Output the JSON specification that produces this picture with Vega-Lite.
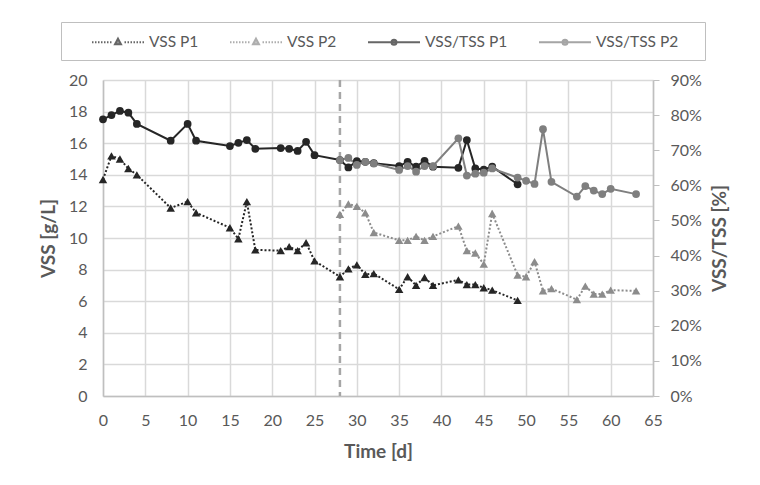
{
  "$schema": "https://vega.github.io/schema/vega-lite/v6.json",
  "width": 550,
  "height": 316,
  "autosize": {"type": "none"},
  "padding": {"left": 103, "top": 80, "right": 107, "bottom": 89},
  "background": "white",
  "config": {
    "font": "Lato",
    "view": {"stroke": null},
    "axis": {
      "labelFont": "Lato",
      "labelFontSize": 16,
      "labelColor": "#595959",
      "titleFont": "Lato",
      "titleFontSize": 19,
      "titleFontWeight": "bold",
      "titleColor": "#595959",
      "gridColor": "#d9d9d9",
      "gridWidth": 1.5,
      "domainColor": "#bfbfbf",
      "domainWidth": 1.5,
      "tickColor": "#bfbfbf"
    },
    "legend": {
      "orient": "none",
      "direction": "horizontal",
      "columns": 4,
      "titleOrient": "right",
      "titlePadding": 18,
      "padding": 9,
      "strokeColor": "#bfbfbf",
      "fillColor": "white",
      "symbolSize": 400,
      "symbolStrokeWidth": 2,
      "symbolOffset": 37,
      "labelOffset": 20,
      "labelFont": "Lato",
      "labelFontSize": 15.5,
      "labelColor": "#595959",
      "labelLimit": 300,
      "columnPadding": 5
    }
  },
  "datasets": {
    "main": [
      {"t": 0, "s": "VSS P1", "v": 13.7},
      {"t": 1, "s": "VSS P1", "v": 15.2},
      {"t": 2, "s": "VSS P1", "v": 15.0},
      {"t": 3, "s": "VSS P1", "v": 14.4},
      {"t": 4, "s": "VSS P1", "v": 14.0},
      {"t": 8, "s": "VSS P1", "v": 11.9},
      {"t": 10, "s": "VSS P1", "v": 12.3},
      {"t": 11, "s": "VSS P1", "v": 11.6},
      {"t": 15, "s": "VSS P1", "v": 10.65},
      {"t": 16, "s": "VSS P1", "v": 9.95},
      {"t": 17, "s": "VSS P1", "v": 12.3},
      {"t": 18, "s": "VSS P1", "v": 9.25},
      {"t": 21, "s": "VSS P1", "v": 9.2},
      {"t": 22, "s": "VSS P1", "v": 9.45},
      {"t": 23, "s": "VSS P1", "v": 9.2},
      {"t": 24, "s": "VSS P1", "v": 9.7},
      {"t": 25, "s": "VSS P1", "v": 8.55},
      {"t": 28, "s": "VSS P1", "v": 7.55},
      {"t": 29, "s": "VSS P1", "v": 8.05},
      {"t": 30, "s": "VSS P1", "v": 8.3},
      {"t": 31, "s": "VSS P1", "v": 7.7},
      {"t": 32, "s": "VSS P1", "v": 7.75},
      {"t": 35, "s": "VSS P1", "v": 6.75},
      {"t": 36, "s": "VSS P1", "v": 7.55},
      {"t": 37, "s": "VSS P1", "v": 7.0},
      {"t": 38, "s": "VSS P1", "v": 7.5},
      {"t": 39, "s": "VSS P1", "v": 7.0},
      {"t": 42, "s": "VSS P1", "v": 7.35},
      {"t": 43, "s": "VSS P1", "v": 7.05},
      {"t": 44, "s": "VSS P1", "v": 7.05},
      {"t": 45, "s": "VSS P1", "v": 6.85},
      {"t": 46, "s": "VSS P1", "v": 6.7},
      {"t": 49, "s": "VSS P1", "v": 6.05},
      {"t": 28, "s": "VSS P2", "v": 11.5},
      {"t": 29, "s": "VSS P2", "v": 12.15},
      {"t": 30, "s": "VSS P2", "v": 12.0},
      {"t": 31, "s": "VSS P2", "v": 11.6},
      {"t": 32, "s": "VSS P2", "v": 10.35},
      {"t": 35, "s": "VSS P2", "v": 9.85},
      {"t": 36, "s": "VSS P2", "v": 9.85},
      {"t": 37, "s": "VSS P2", "v": 10.1},
      {"t": 38, "s": "VSS P2", "v": 9.85},
      {"t": 39, "s": "VSS P2", "v": 10.1},
      {"t": 42, "s": "VSS P2", "v": 10.75},
      {"t": 43, "s": "VSS P2", "v": 9.2},
      {"t": 44, "s": "VSS P2", "v": 9.05},
      {"t": 45, "s": "VSS P2", "v": 8.35},
      {"t": 46, "s": "VSS P2", "v": 11.55},
      {"t": 49, "s": "VSS P2", "v": 7.65},
      {"t": 50, "s": "VSS P2", "v": 7.55},
      {"t": 51, "s": "VSS P2", "v": 8.5},
      {"t": 52, "s": "VSS P2", "v": 6.65},
      {"t": 53, "s": "VSS P2", "v": 6.8},
      {"t": 56, "s": "VSS P2", "v": 6.1},
      {"t": 57, "s": "VSS P2", "v": 6.95},
      {"t": 58, "s": "VSS P2", "v": 6.45},
      {"t": 59, "s": "VSS P2", "v": 6.45},
      {"t": 60, "s": "VSS P2", "v": 6.7},
      {"t": 63, "s": "VSS P2", "v": 6.65},
      {"t": 0, "s": "VSS/TSS P1", "v": 0.788},
      {"t": 1, "s": "VSS/TSS P1", "v": 0.8},
      {"t": 2, "s": "VSS/TSS P1", "v": 0.812},
      {"t": 3, "s": "VSS/TSS P1", "v": 0.807},
      {"t": 4, "s": "VSS/TSS P1", "v": 0.775},
      {"t": 8, "s": "VSS/TSS P1", "v": 0.727},
      {"t": 10, "s": "VSS/TSS P1", "v": 0.775},
      {"t": 11, "s": "VSS/TSS P1", "v": 0.727},
      {"t": 15, "s": "VSS/TSS P1", "v": 0.712},
      {"t": 16, "s": "VSS/TSS P1", "v": 0.721},
      {"t": 17, "s": "VSS/TSS P1", "v": 0.729},
      {"t": 18, "s": "VSS/TSS P1", "v": 0.704},
      {"t": 21, "s": "VSS/TSS P1", "v": 0.706},
      {"t": 22, "s": "VSS/TSS P1", "v": 0.704},
      {"t": 23, "s": "VSS/TSS P1", "v": 0.698},
      {"t": 24, "s": "VSS/TSS P1", "v": 0.724},
      {"t": 25, "s": "VSS/TSS P1", "v": 0.686},
      {"t": 28, "s": "VSS/TSS P1", "v": 0.672},
      {"t": 29, "s": "VSS/TSS P1", "v": 0.651},
      {"t": 30, "s": "VSS/TSS P1", "v": 0.669},
      {"t": 31, "s": "VSS/TSS P1", "v": 0.667},
      {"t": 32, "s": "VSS/TSS P1", "v": 0.663},
      {"t": 35, "s": "VSS/TSS P1", "v": 0.655},
      {"t": 36, "s": "VSS/TSS P1", "v": 0.667},
      {"t": 37, "s": "VSS/TSS P1", "v": 0.653},
      {"t": 38, "s": "VSS/TSS P1", "v": 0.67},
      {"t": 39, "s": "VSS/TSS P1", "v": 0.653},
      {"t": 42, "s": "VSS/TSS P1", "v": 0.65},
      {"t": 43, "s": "VSS/TSS P1", "v": 0.729},
      {"t": 44, "s": "VSS/TSS P1", "v": 0.648},
      {"t": 45, "s": "VSS/TSS P1", "v": 0.645},
      {"t": 46, "s": "VSS/TSS P1", "v": 0.653},
      {"t": 49, "s": "VSS/TSS P1", "v": 0.603},
      {"t": 28, "s": "VSS/TSS P2", "v": 0.672},
      {"t": 29, "s": "VSS/TSS P2", "v": 0.678},
      {"t": 30, "s": "VSS/TSS P2", "v": 0.658},
      {"t": 31, "s": "VSS/TSS P2", "v": 0.667},
      {"t": 32, "s": "VSS/TSS P2", "v": 0.662},
      {"t": 35, "s": "VSS/TSS P2", "v": 0.644},
      {"t": 36, "s": "VSS/TSS P2", "v": 0.655},
      {"t": 37, "s": "VSS/TSS P2", "v": 0.639},
      {"t": 38, "s": "VSS/TSS P2", "v": 0.655},
      {"t": 39, "s": "VSS/TSS P2", "v": 0.655},
      {"t": 42, "s": "VSS/TSS P2", "v": 0.734},
      {"t": 43, "s": "VSS/TSS P2", "v": 0.628},
      {"t": 44, "s": "VSS/TSS P2", "v": 0.633},
      {"t": 45, "s": "VSS/TSS P2", "v": 0.636},
      {"t": 46, "s": "VSS/TSS P2", "v": 0.648},
      {"t": 49, "s": "VSS/TSS P2", "v": 0.622},
      {"t": 50, "s": "VSS/TSS P2", "v": 0.613},
      {"t": 51, "s": "VSS/TSS P2", "v": 0.604},
      {"t": 52, "s": "VSS/TSS P2", "v": 0.76},
      {"t": 53, "s": "VSS/TSS P2", "v": 0.61},
      {"t": 56, "s": "VSS/TSS P2", "v": 0.568},
      {"t": 57, "s": "VSS/TSS P2", "v": 0.598},
      {"t": 58, "s": "VSS/TSS P2", "v": 0.585},
      {"t": 59, "s": "VSS/TSS P2", "v": 0.575},
      {"t": 60, "s": "VSS/TSS P2", "v": 0.59},
      {"t": 63, "s": "VSS/TSS P2", "v": 0.575}
    ]
  },
  "encoding": {
    "x": {
      "field": "t",
      "type": "quantitative",
      "scale": {"domain": [0, 65], "nice": false},
      "axis": {
        "title": "Time [d]",
        "values": [0, 5, 10, 15, 20, 25, 30, 35, 40, 45, 50, 55, 60, 65],
        "grid": true,
        "ticks": false,
        "labelPadding": 16,
        "titlePadding": 14,
        "labelFlush": false
      }
    }
  },
  "layer": [
    {
      "data": {"values": [{"t": 28}]},
      "mark": {"type": "rule", "color": "#a6a6a6", "strokeWidth": 2.5, "strokeDash": [7, 5]},
      "encoding": {}
    },
    {
      "data": {"name": "main"},
      "transform": [{"filter": {"field": "s", "oneOf": ["VSS P1", "VSS P2"]}}],
      "encoding": {
        "y": {
          "field": "v",
          "type": "quantitative",
          "scale": {"domain": [0, 20], "nice": false},
          "axis": {
            "orient": "left",
            "title": "VSS [g/L]",
            "values": [0, 2, 4, 6, 8, 10, 12, 14, 16, 18, 20],
            "grid": true,
            "ticks": false,
            "labelPadding": 16,
            "titlePadding": 10
          }
        },
        "color": {
          "field": "s",
          "type": "nominal",
          "scale": {"range": ["#262626", "#8c8c8c", "#262626", "#7f7f7f"]},
          "legend": null
        }
      },
      "layer": [
        {"mark": {"type": "line", "strokeDash": [2, 2], "strokeWidth": 2}},
        {"mark": {"type": "point", "shape": "triangle-up", "filled": true, "size": 72, "opacity": 1}}
      ]
    },
    {
      "data": {"name": "main"},
      "transform": [{"filter": {"field": "s", "oneOf": ["VSS/TSS P1", "VSS/TSS P2"]}}],
      "encoding": {
        "y": {
          "field": "v",
          "type": "quantitative",
          "scale": {"domain": [0, 0.9], "nice": false},
          "axis": {
            "orient": "right",
            "title": "VSS/TSS [%]",
            "format": ".0%",
            "values": [0, 0.1, 0.2, 0.3, 0.4, 0.5, 0.6, 0.7, 0.8, 0.9],
            "grid": false,
            "ticks": true,
            "tickSize": 6,
            "labelPadding": 11,
            "titlePadding": 9,
            "titleAngle": 270,
            "titleBaseline": "top"
          }
        },
        "color": {
          "field": "s",
          "type": "nominal",
          "scale": {"range": ["#262626", "#8c8c8c", "#262626", "#7f7f7f"]},
          "legend": null
        }
      },
      "layer": [
        {"mark": {"type": "line", "strokeWidth": 2}},
        {"mark": {"type": "point", "shape": "circle", "filled": true, "size": 60, "opacity": 1}}
      ]
    },
    {
      "data": {"name": "main"},
      "transform": [{"filter": "datum.t < 0"}],
      "mark": {"type": "point", "filled": true},
      "encoding": {
        "fill": {
          "field": "s",
          "type": "nominal",
          "scale": {"domain": ["VSS P1", "VSS P2", "VSS/TSS P1", "VSS/TSS P2"], "range": ["#262626", "#8c8c8c", "#262626", "#7f7f7f"]},
          "legend": {"title": " ", "legendX": -42, "legendY": -58}
        },
        "stroke": {
          "field": "s",
          "type": "nominal",
          "scale": {"domain": ["VSS P1", "VSS P2", "VSS/TSS P1", "VSS/TSS P2"], "range": ["#262626", "#8c8c8c", "#262626", "#7f7f7f"]},
          "legend": {"title": " ", "legendX": -42, "legendY": -58}
        },
        "shape": {
          "field": "s",
          "type": "nominal",
          "scale": {
            "domain": ["VSS P1", "VSS P2", "VSS/TSS P1", "VSS/TSS P2"],
            "range": [
              "M-4.8,0M-2.6,0H-2.45M-2.3,0H-2.15M-2,0H-1.85M-1.7,0H-1.55M-1.4,0H-1.25M-1.1,0H-0.95M-0.8,0H-0.65M0.65,0H0.8M0.95,0H1.1M1.25,0H1.4M1.55,0H1.7M1.85,0H2M2.15,0H2.3M2.45,0H2.6M0,-0.36L0.3,0.2L-0.3,0.2Z",
              "M-4.8,0M-2.6,0H-2.45M-2.3,0H-2.15M-2,0H-1.85M-1.7,0H-1.55M-1.4,0H-1.25M-1.1,0H-0.95M-0.8,0H-0.65M0.65,0H0.8M0.95,0H1.1M1.25,0H1.4M1.55,0H1.7M1.85,0H2M2.15,0H2.3M2.45,0H2.6M0,-0.36L0.3,0.2L-0.3,0.2Z",
              "M-4.8,0M-2.6,0H2.6M0.25,0A0.25,0.25,0,1,1,-0.25,0A0.25,0.25,0,1,1,0.25,0Z",
              "M-4.8,0M-2.6,0H2.6M0.25,0A0.25,0.25,0,1,1,-0.25,0A0.25,0.25,0,1,1,0.25,0Z"
            ]
          },
          "legend": {"title": " ", "legendX": -42, "legendY": -58}
        }
      }
    }
  ],
  "resolve": {"scale": {"y": "independent"}}
}
